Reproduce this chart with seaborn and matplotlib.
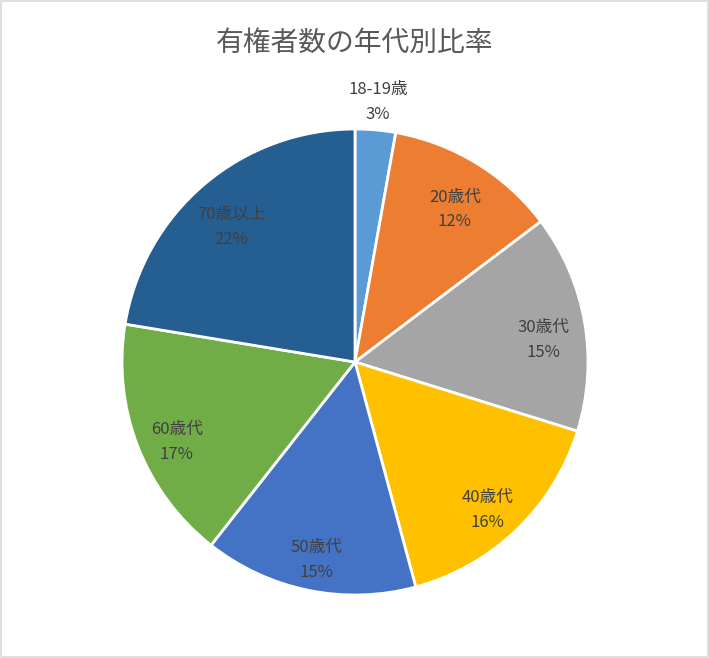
import numpy as np
import seaborn as sns
import matplotlib.pyplot as plt
from matplotlib.patches import Rectangle

sns.set_theme(style='white')
plt.rcParams['font.family'] = ['Noto Sans CJK JP', 'DejaVu Sans']

# data (percent of voters by age group)
groups = ['18-19歳', '20歳代', '30歳代', '40歳代', '50歳代', '60歳代', '70歳以上']
shares = [2.8, 11.9, 15.1, 16.0, 14.8, 17.0, 22.4]
colors = ['#5B9BD5', '#ED7D31', '#A5A5A5', '#FFC000', '#4472C4', '#70AD47', '#255E91']

fig = plt.figure(figsize=(7.09, 6.58), dpi=100)
ax = fig.add_axes([(355 - 233) / 709, (658 - 362 - 233) / 658, 466 / 709, 466 / 658])

wedges, _ = ax.pie(shares, colors=colors, startangle=90, counterclock=False,
                   radius=1.0, wedgeprops={'edgecolor': 'white', 'linewidth': 2})
ax.set_aspect('equal')
ax.set_xlim(-1, 1)
ax.set_ylim(-1, 1)

for w, g, s in zip(wedges, groups, shares):
    mid = np.deg2rad((w.theta1 + w.theta2) / 2)
    outside = s < 5
    r = 1.12 if outside else 0.82
    dy = 0.0 if outside else -0.045
    ax.text(r * np.cos(mid), r * np.sin(mid) + dy, f'{g}\n{s:.0f}%', ha='center', va='center',
            fontsize=12, color='#404040', linespacing=1.6)

fig.text(0.5, 1 - 43 / 658, '有権者数の年代別比率', ha='center', va='center',
         fontsize=20, color='#595959')
fig.patches.append(Rectangle((0.001, 0.001), 0.997, 0.997, transform=fig.transFigure,
                             fill=False, edgecolor='#D9D9D9', linewidth=1.2))

fig.savefig('out.png', dpi=100)
